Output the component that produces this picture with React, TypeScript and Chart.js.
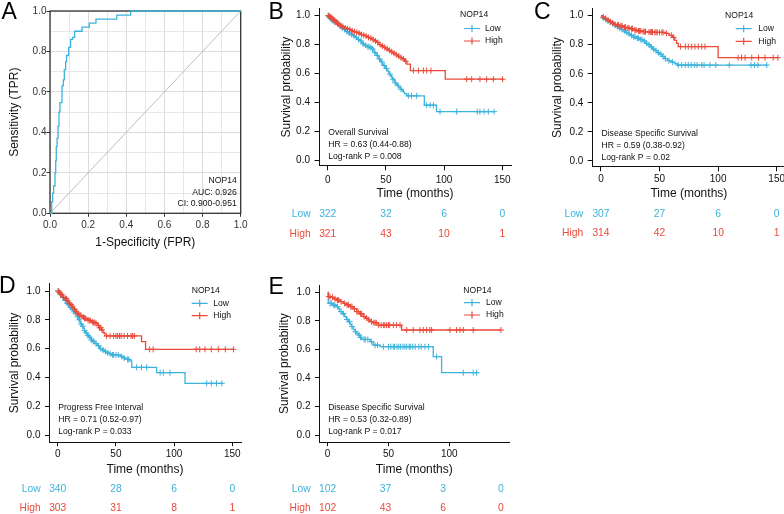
import React, { useEffect, useRef } from "react";
import { Chart, registerables } from "chart.js";

Chart.register(...registerables);

const FONT = "'Liberation Sans', Arial, Helvetica, sans-serif";
const CYAN = "#3DB2DB";
const RED = "#EA4A3A";
const INK = "#111111";
const GENE = "NOP14";
const GROUPS = ["Low", "High"];

// ---------------- Panel A : ROC ----------------
const rocFpr = [0, 0.009, 0.014, 0.019, 0.026, 0.03, 0.033, 0.037, 0.042, 0.047, 0.052, 0.063, 0.07, 0.075, 0.082, 0.087, 0.098, 0.108, 0.119, 0.129, 0.168, 0.206, 0.241, 0.35, 0.423, 1.0];
const rocTpr = [0, 0.058, 0.1, 0.135, 0.2, 0.26, 0.33, 0.37, 0.43, 0.5, 0.547, 0.63, 0.66, 0.71, 0.75, 0.78, 0.82, 0.86, 0.87, 0.9, 0.92, 0.94, 0.96, 0.98, 1.0, 1.0];
const rocDiagonal = [0, 1];
const rocTicks = [0, 0.1, 0.2, 0.3, 0.4, 0.5, 0.6, 0.7, 0.8, 0.9, 1.0];
const rocText = ["NOP14", "AUC: 0.926", "CI: 0.900-0.951"];

// ---------------- shared KM ticks ----------------
const timeTicks = [0, 50, 100, 150];
const timeTicksE = [0, 50, 100];
const survTicks = [0, 0.2, 0.4, 0.6, 0.8, 1.0];
const riskTimes = [0, 50, 100, 150];

// ---------------- Panel B : Overall Survival ----------------
const bLowTime = [0, 1, 2, 3, 4, 5, 6, 7, 8, 9, 10, 11, 12, 13, 14, 15, 16, 17, 18, 19, 20, 21, 22, 23, 24, 25, 26, 27, 28, 29, 30, 31, 32, 33, 34, 36, 38, 39, 40, 41, 42, 43, 44, 45, 46, 47, 48, 49, 50, 51, 52, 53, 54, 55, 56, 57, 58, 59, 60, 61, 62, 63, 64, 65, 66, 68, 83, 93.5];
const bLowSurv = [1, 0.99, 0.98, 0.975, 0.965, 0.96, 0.955, 0.95, 0.945, 0.935, 0.93, 0.92, 0.915, 0.91, 0.905, 0.895, 0.89, 0.885, 0.88, 0.875, 0.87, 0.865, 0.86, 0.855, 0.85, 0.84, 0.835, 0.83, 0.825, 0.815, 0.805, 0.8, 0.795, 0.79, 0.785, 0.78, 0.77, 0.76, 0.745, 0.735, 0.725, 0.715, 0.7, 0.69, 0.68, 0.665, 0.655, 0.645, 0.635, 0.62, 0.61, 0.595, 0.585, 0.57, 0.56, 0.55, 0.535, 0.525, 0.515, 0.505, 0.5, 0.49, 0.48, 0.47, 0.46, 0.445, 0.38, 0.335];
const bLowEnd = 143;
const bLowCensor = [0.5, 1.5, 2.5, 3.5, 4.5, 5.5, 6.5, 8.5, 10.5, 12.5, 14.5, 16.5, 18.5, 20.5, 22.5, 24.5, 26.5, 28.5, 30.5, 32.5, 34.5, 35.5, 37, 38.5, 40.5, 42.5, 44.5, 46.5, 48.5, 50.5, 53.5, 56, 58, 60.5, 63, 69.3, 72, 76.4, 85, 88, 90.8, 96.5, 110.8, 128.5, 130.8, 134.3, 138, 143];
const bHighTime = [0, 1, 2, 3, 4, 5, 6, 7, 8, 9, 10, 11, 12, 14, 16, 18, 20, 22, 24, 26, 28, 30, 32, 34, 36, 38, 40, 42, 44, 46, 48, 50, 52, 54, 56, 58, 60, 62, 64, 66, 68, 71, 101];
const bHighSurv = [1, 0.995, 0.99, 0.985, 0.975, 0.97, 0.96, 0.955, 0.95, 0.94, 0.935, 0.93, 0.925, 0.915, 0.91, 0.905, 0.895, 0.89, 0.885, 0.88, 0.87, 0.865, 0.86, 0.85, 0.845, 0.835, 0.825, 0.815, 0.8, 0.79, 0.78, 0.77, 0.76, 0.75, 0.74, 0.73, 0.72, 0.71, 0.7, 0.685, 0.665, 0.62, 0.56];
const bHighEnd = 151;
const bHighCensor = [0.5, 1.5, 2.5, 3.5, 4.5, 5.5, 6.5, 7.5, 8.5, 9.5, 11.5, 13, 15, 17, 19, 21, 23, 25, 27, 29, 31, 33, 35, 37, 39, 41, 43, 45, 47, 49, 51, 53, 55, 57, 59, 61, 63, 65, 67, 73.6, 77.9, 82.2, 85, 88.7, 119.4, 123.7, 130.8, 136.6, 142.3, 150.3];
const bRiskLow = [322, 32, 6, 0];
const bRiskHigh = [321, 43, 10, 1];
const bNotes = ["Overall Survival", "HR = 0.63 (0.44-0.88)", "Log-rank P = 0.008"];

// ---------------- Panel C : Disease Specific Survival ----------------
const cLowTime = [0, 1, 3, 5, 7, 9, 11, 13, 15, 17, 19, 21, 23, 25, 27, 30, 33, 36, 38, 40, 42, 44, 46, 48, 50, 52, 54, 57, 60, 63, 65];
const cLowSurv = [1, 0.985, 0.975, 0.965, 0.955, 0.945, 0.935, 0.925, 0.915, 0.905, 0.895, 0.885, 0.875, 0.865, 0.855, 0.845, 0.835, 0.825, 0.81, 0.8, 0.785, 0.77, 0.76, 0.745, 0.735, 0.72, 0.705, 0.69, 0.68, 0.67, 0.66];
const cLowEnd = 141.5;
const cLowCensor = [2, 4, 6, 8, 10, 12, 14, 16, 18, 20, 22, 24, 26, 28, 29, 31, 32, 34, 35, 37, 39, 41, 43, 45, 47, 49, 51, 53, 55, 58, 61, 66, 69, 72, 74.5, 77, 80, 82, 86, 88, 93, 98, 109.5, 128, 131, 134, 141.5];
const cHighTime = [0, 1.5, 3, 5, 7, 9, 11, 13, 16, 19, 22, 25, 28, 31, 35, 40, 45, 55, 58, 61, 63, 64.5, 66, 100];
const cHighSurv = [1, 0.99, 0.98, 0.97, 0.96, 0.95, 0.94, 0.935, 0.93, 0.92, 0.915, 0.91, 0.9, 0.895, 0.89, 0.887, 0.885, 0.878, 0.865, 0.85, 0.83, 0.81, 0.787, 0.711];
const cHighEnd = 151;
const cHighCensor = [2, 4, 6, 8, 10, 12, 14, 15, 17, 18, 20, 21, 23, 24, 26, 27, 29, 30, 32, 33, 34, 36, 37, 38, 41, 42, 43, 44, 46, 47, 48, 50, 52, 53, 56, 60, 62, 68, 72, 74.5, 77.4, 80.2, 83, 86, 88.8, 117, 120, 123, 128.7, 134.4, 140, 147, 151];
const cRiskLow = [307, 27, 6, 0];
const cRiskHigh = [314, 42, 10, 1];
const cNotes = ["Disease Specific Survival", "HR = 0.59 (0.38-0.92)", "Log-rank P = 0.02"];

// ---------------- Panel D : Progress Free Interval ----------------
const dLowTime = [0, 1, 2, 3, 4, 5, 6, 7, 8, 9, 10, 11, 12, 13, 14, 15, 16, 17, 18, 19, 20, 21, 22, 23, 24, 25, 26, 27, 28, 29, 30, 32, 34, 36, 38, 40, 42, 44, 46, 54, 56, 58, 62, 63.6, 85, 109.4];
const dLowSurv = [1, 0.985, 0.975, 0.965, 0.955, 0.945, 0.935, 0.925, 0.915, 0.905, 0.895, 0.885, 0.875, 0.865, 0.855, 0.845, 0.835, 0.82, 0.8, 0.785, 0.77, 0.755, 0.74, 0.725, 0.71, 0.7, 0.69, 0.68, 0.67, 0.66, 0.65, 0.635, 0.62, 0.6, 0.59, 0.58, 0.57, 0.565, 0.556, 0.545, 0.535, 0.525, 0.515, 0.47, 0.433, 0.359];
const dLowEnd = 142;
const dLowCensor = [0.5, 2.5, 4.5, 6.5, 8, 9.5, 11, 12.5, 14, 15.5, 17, 18.5, 20, 21.5, 23, 24.5, 26, 27.5, 29, 30.5, 31, 33, 35, 37, 39, 41, 43, 45, 47, 48, 50, 52, 55, 57, 60, 61, 67.8, 72, 76.4, 88, 90.8, 96.5, 128, 132, 136.5, 141];
const dHighTime = [0, 1, 2, 3, 4, 5, 6, 7, 8, 9, 10, 11, 12, 13, 14, 15, 16, 17, 18, 19, 21, 23, 25, 27, 29, 31, 33, 34.5, 36, 37.5, 39, 40.5, 72, 75.5];
const dHighSurv = [1, 0.99, 0.98, 0.975, 0.965, 0.955, 0.95, 0.945, 0.935, 0.925, 0.915, 0.905, 0.895, 0.885, 0.875, 0.865, 0.855, 0.845, 0.835, 0.83, 0.82, 0.81, 0.8, 0.795, 0.785, 0.78, 0.775, 0.76, 0.745, 0.73, 0.71, 0.688, 0.648, 0.595];
const dHighEnd = 151;
const dHighCensor = [0.5, 1.5, 2.5, 3.5, 5, 6.5, 7.5, 8.5, 10, 11.5, 12.5, 14.5, 16, 17.5, 19, 20, 22, 23, 24, 26, 27, 28, 30, 31, 32, 33, 35, 36, 37, 38, 42, 45, 48, 50, 51.5, 53, 54.5, 57, 60, 63, 64.4, 65.8, 79, 82, 119, 122, 126.5, 132, 138, 144, 151];
const dRiskLow = [340, 28, 6, 0];
const dRiskHigh = [303, 31, 8, 1];
const dNotes = ["Progress Free Interval", "HR = 0.71 (0.52-0.97)", "Log-rank P = 0.033"];

// ---------------- Panel E : Disease Specific Survival ----------------
const eLowTime = [0, 0.5, 4, 7.4, 9, 10, 12, 14, 15.5, 17, 18.5, 19.7, 21, 22.5, 24, 25.2, 26.5, 28, 34.8, 37.5, 43, 86.8, 93.7];
const eLowSurv = [1, 0.923, 0.91, 0.9, 0.885, 0.865, 0.85, 0.83, 0.81, 0.794, 0.775, 0.76, 0.74, 0.724, 0.71, 0.7, 0.685, 0.67, 0.654, 0.63, 0.619, 0.55, 0.437];
const eLowEnd = 123.8;
const eLowCensor = [2, 3, 5, 6, 8, 11, 13, 16, 18, 20, 23, 26, 27, 30, 31, 33, 36, 39, 41, 45.8, 50, 52, 54, 55, 57, 58.5, 60, 62, 63.5, 65, 67, 68, 70, 72, 75, 77, 80, 83, 89.6, 111.5, 119.7, 122.5];
const eHighTime = [0, 0.5, 3, 5, 7.4, 10, 12.9, 15, 18.4, 21, 23.8, 26, 29.3, 31, 33.4, 35.5, 37.5, 41.6, 60.8];
const eHighSurv = [1, 0.97, 0.965, 0.955, 0.946, 0.935, 0.923, 0.912, 0.9, 0.885, 0.865, 0.85, 0.83, 0.82, 0.806, 0.795, 0.787, 0.77, 0.736];
const eHighEnd = 142.5;
const eHighCensor = [1, 2, 4, 6, 8, 9, 11, 14, 16, 17, 19, 20, 22, 24, 25, 27, 28, 30, 32, 34, 36, 38, 39, 40, 42, 44, 45.8, 47, 48.5, 50, 51, 54, 56.7, 59.5, 65, 70.4, 75.9, 78.6, 81.4, 84, 85.5, 100.5, 106, 108.8, 111.5, 119.7, 142.5];
const eRiskLow = [102, 37, 3, 0];
const eRiskHigh = [102, 43, 6, 0];
const eNotes = ["Disease Specific Survival", "HR = 0.53 (0.32-0.89)", "Log-rank P = 0.017"];

// ---------------- layout (page pixels) ----------------
const NOTE_Y = [0.19, 0.105, 0.022];

function stepPoints(times: number[], surv: number[], end: number) {
  const pts = times.map((t, i) => ({ x: t, y: surv[i] }));
  pts.push({ x: end, y: surv[surv.length - 1] });
  return pts;
}
function censorPoints(times: number[], surv: number[], cens: number[]) {
  return cens.map((c) => {
    let s = surv[0];
    for (let i = 0; i < times.length; i++) if (times[i] <= c) s = surv[i];
    return { x: c, y: s };
  });
}

function kmPlugin(k: any) {
  return {
    id: "kmExtras",
    afterDraw(chart: any) {
      const ctx = chart.ctx;
      const g = k.geo;
      const xs = chart.scales.x;
      const ys = chart.scales.y;
      const rs = chart.scales[k.riskAxis];
      ctx.save();
      ctx.font = `8.6px ${FONT}`;
      ctx.fillStyle = INK;
      ctx.textAlign = "left";
      ctx.textBaseline = "middle";
      k.notes.forEach((t: string, i: number) => ctx.fillText(t, xs.getPixelForValue(0) + 0.5, ys.getPixelForValue(NOTE_Y[i])));
      const lg = k.legend;
      ctx.fillText(GENE, lg.titleX - g.cx, lg.titleY - g.cy);
      [CYAN, RED].forEach((c, i) => {
        const y = lg.rows[i] - g.cy;
        const x0 = lg.keyX - g.cx;
        ctx.strokeStyle = c;
        ctx.lineWidth = 1.2;
        ctx.beginPath();
        ctx.moveTo(x0, y);
        ctx.lineTo(x0 + 16, y);
        ctx.moveTo(x0 + 8, y - 3.5);
        ctx.lineTo(x0 + 8, y + 3.5);
        ctx.stroke();
        ctx.fillStyle = INK;
        ctx.fillText(GROUPS[i], lg.textX - g.cx, y);
      });
      ctx.font = `10.3px ${FONT}`;
      [k.riskLow, k.riskHigh].forEach((row: number[], i: number) => {
        const y = k.riskRows[i] - g.cy;
        ctx.fillStyle = i ? RED : CYAN;
        ctx.textAlign = "right";
        ctx.fillText(GROUPS[i], k.labelRight - g.cx, y);
        ctx.textAlign = "center";
        row.forEach((n, j) => ctx.fillText(String(n), rs.getPixelForValue(riskTimes[j]), y));
      });
      ctx.restore();
    },
  };
}

function kmConfig(k: any) {
  const g = k.geo;
  const scales: any = {
    x: {
      type: "linear",
      min: k.xmin,
      max: k.xmax,
      afterBuildTicks: (s: any) => {
        s.ticks = k.xTicks.map((v: number) => ({ value: v }));
      },
      afterFit: (s: any) => {
        s.height = g.xTitleY + 6 - g.B;
      },
      ticks: {
        autoSkip: false,
        maxRotation: 0,
        font: { size: 10, family: FONT },
        color: INK,
        padding: g.xLabelY - g.B - g.tl - 6,
        callback: (v: any) => String(v),
      },
      grid: { drawOnChartArea: false, drawTicks: true, tickLength: g.tl, tickColor: INK, tickWidth: 1 },
      border: { display: true, color: INK, width: 1 },
      title: { display: true, text: "Time (months)", color: INK, font: { size: 12, family: FONT, lineHeight: 1 }, padding: { top: 0, bottom: 0 } },
    },
    y: {
      type: "linear",
      min: k.ymin,
      max: 1.05,
      afterBuildTicks: (s: any) => {
        s.ticks = survTicks.map((v) => ({ value: v }));
      },
      afterFit: (s: any) => {
        s.width = g.L - g.cx;
      },
      ticks: {
        autoSkip: false,
        font: { size: 10, family: FONT },
        color: INK,
        padding: g.L - g.tl - g.yLabelRight,
        callback: (v: any) => Number(v).toFixed(1),
      },
      grid: { drawOnChartArea: false, drawTicks: true, tickLength: g.tl, tickColor: INK, tickWidth: 1 },
      border: { display: true, color: INK, width: 1 },
      title: { display: true, text: "Survival probability", color: INK, font: { size: 12, family: FONT, lineHeight: 1 }, padding: { top: g.yTitleX - g.cx - 6, bottom: 0 } },
    },
  };
  if (k.riskAxis !== "x") {
    scales[k.riskAxis] = { type: "linear", display: false, min: -7.5, max: 157.5 };
  }
  return {
    type: "line",
    data: {
      datasets: [
        { data: stepPoints(k.hT, k.hS, k.hEnd), borderColor: RED, borderWidth: 1.3, stepped: "before", pointRadius: 0, fill: false },
        { data: censorPoints(k.hT, k.hS, k.hC), showLine: false, pointStyle: "cross", pointRadius: 3, pointHoverRadius: 3, pointBorderColor: RED, pointBorderWidth: 1, pointBackgroundColor: RED },
        { data: stepPoints(k.lT, k.lS, k.lEnd), borderColor: CYAN, borderWidth: 1.3, stepped: "before", pointRadius: 0, fill: false },
        { data: censorPoints(k.lT, k.lS, k.lC), showLine: false, pointStyle: "cross", pointRadius: 3, pointHoverRadius: 3, pointBorderColor: CYAN, pointBorderWidth: 1, pointBackgroundColor: CYAN },
      ],
    },
    options: {
      responsive: false,
      animation: false,
      events: [],
      layout: { padding: { left: 0, top: g.T - g.cy, right: g.cx + g.cw - g.R, bottom: g.cy + g.ch - (g.xTitleY + 6) } },
      plugins: { legend: { display: false }, tooltip: { enabled: false } },
      scales,
    },
    plugins: [kmPlugin(k)],
  };
}

const rocGeo = { cx: 0, cy: -6, cw: 258, ch: 262, L: 50, R: 240.7, T: 11, B: 213.3, yTitleX: 15, xTitleY: 242.3, xLabelY: 225, yLabelRight: 46.5, tl: 3.5 };

function rocConfig() {
  const g = rocGeo;
  const gridOpts = {
    display: true,
    color: "#DCDCDC",
    lineWidth: (c: any) => (c.index % 2 ? 0.7 : 1),
    tickColor: (c: any) => (c.index % 2 ? "rgba(0,0,0,0)" : "#333333"),
    tickLength: g.tl,
    drawOnChartArea: true,
    drawTicks: true,
  };
  return {
    type: "line",
    data: {
      datasets: [
        { data: rocFpr.map((x, i) => ({ x, y: rocTpr[i] })), borderColor: CYAN, borderWidth: 1.3, stepped: "before", pointRadius: 0, fill: false, clip: 4 },
        { data: rocDiagonal.map((v) => ({ x: v, y: v })), borderColor: "#BEBEBE", borderWidth: 1, pointRadius: 0, fill: false },
      ],
    },
    options: {
      responsive: false,
      animation: false,
      events: [],
      layout: { padding: { left: 0, top: g.T - g.cy, right: g.cx + g.cw - g.R, bottom: g.cy + g.ch - (g.xTitleY + 6) } },
      plugins: { legend: { display: false }, tooltip: { enabled: false } },
      scales: {
        x: {
          type: "linear",
          min: 0,
          max: 1,
          afterBuildTicks: (s: any) => {
            s.ticks = rocTicks.map((v) => ({ value: v }));
          },
          afterFit: (s: any) => {
            s.height = g.xTitleY + 6 - g.B;
          },
          ticks: { autoSkip: false, maxRotation: 0, font: { size: 10, family: FONT }, color: "#333333", padding: g.xLabelY - g.B - g.tl - 6, callback: (v: any, i: number) => (i % 2 ? "" : Number(v).toFixed(1)) },
          grid: gridOpts,
          border: { display: false },
          title: { display: true, text: "1-Specificity (FPR)", color: INK, font: { size: 12, family: FONT, lineHeight: 1 }, padding: { top: 0, bottom: 0 } },
        },
        y: {
          type: "linear",
          min: 0,
          max: 1,
          afterBuildTicks: (s: any) => {
            s.ticks = rocTicks.map((v) => ({ value: v }));
          },
          afterFit: (s: any) => {
            s.width = g.L - g.cx;
          },
          ticks: { autoSkip: false, font: { size: 10, family: FONT }, color: "#333333", padding: g.L - g.tl - g.yLabelRight, callback: (v: any, i: number) => (i % 2 ? "" : Number(v).toFixed(1)) },
          grid: gridOpts,
          border: { display: false },
          title: { display: true, text: "Sensitivity (TPR)", color: INK, font: { size: 12, family: FONT, lineHeight: 1 }, padding: { top: g.yTitleX - g.cx - 6, bottom: 0 } },
        },
      },
    },
    plugins: [
      {
        id: "rocExtras",
        beforeDatasetsDraw(chart: any) {
          const { ctx, chartArea: a } = chart;
          ctx.save();
          ctx.strokeStyle = "#333333";
          ctx.lineWidth = 1.3;
          ctx.strokeRect(a.left, a.top, a.right - a.left, a.bottom - a.top);
          ctx.restore();
        },
        afterDraw(chart: any) {
          const ctx = chart.ctx;
          const xs = chart.scales.x;
          const ys = chart.scales.y;
          ctx.save();
          ctx.font = `8.6px ${FONT}`;
          ctx.fillStyle = INK;
          ctx.textAlign = "right";
          ctx.textBaseline = "middle";
          const yv = [0.16, 0.102, 0.046];
          rocText.forEach((t, i) => ctx.fillText(t, xs.getPixelForValue(0.979), ys.getPixelForValue(yv[i])));
          ctx.restore();
        },
      },
    ],
  };
}

const panels: any[] = [
  {
    key: "B",
    geo: { cx: 262, cy: -6, cw: 262, ch: 252, L: 319, R: 511, T: 8.5, B: 165.8, yTitleX: 286.7, xTitleY: 193.5, xLabelY: 179.8, yLabelRight: 310, tl: 4.5 },
    xmin: -7.5, xmax: 157.5, ymin: -0.04, xTicks: timeTicks, riskAxis: "x",
    lT: bLowTime, lS: bLowSurv, lEnd: bLowEnd, lC: bLowCensor,
    hT: bHighTime, hS: bHighSurv, hEnd: bHighEnd, hC: bHighCensor,
    riskLow: bRiskLow, riskHigh: bRiskHigh, riskRows: [214.2, 233.7], labelRight: 310.7,
    notes: bNotes,
    legend: { titleX: 460, titleY: 15, keyX: 464, textX: 485, rows: [28.5, 41] },
  },
  {
    key: "C",
    geo: { cx: 527, cy: -6, cw: 270, ch: 252, L: 592.2, R: 785.5, T: 8.4, B: 166.8, yTitleX: 557.8, xTitleY: 193.5, xLabelY: 179.3, yLabelRight: 583.3, tl: 4.5 },
    xmin: -7.5, xmax: 157.5, ymin: -0.04, xTicks: timeTicks, riskAxis: "x",
    lT: cLowTime, lS: cLowSurv, lEnd: cLowEnd, lC: cLowCensor,
    hT: cHighTime, hS: cHighSurv, hEnd: cHighEnd, hC: cHighCensor,
    riskLow: cRiskLow, riskHigh: cRiskHigh, riskRows: [214.3, 233.3], labelRight: 583.3,
    notes: cNotes,
    legend: { titleX: 725, titleY: 15.3, keyX: 735.7, textX: 758.3, rows: [28.7, 41.3] },
  },
  {
    key: "D",
    geo: { cx: 0, cy: 256, cw: 260, ch: 258, L: 49, R: 241, T: 283.8, B: 442.2, yTitleX: 14.7, xTitleY: 470, xLabelY: 454, yLabelRight: 40.5, tl: 4 },
    xmin: -7.5, xmax: 157.5, ymin: -0.05, xTicks: timeTicks, riskAxis: "x",
    lT: dLowTime, lS: dLowSurv, lEnd: dLowEnd, lC: dLowCensor,
    hT: dHighTime, hS: dHighSurv, hEnd: dHighEnd, hC: dHighCensor,
    riskLow: dRiskLow, riskHigh: dRiskHigh, riskRows: [489.3, 508.5], labelRight: 40.7,
    notes: dNotes,
    legend: { titleX: 191.7, titleY: 291, keyX: 191.7, textX: 213.3, rows: [303.3, 315.7] },
  },
  {
    key: "E",
    geo: { cx: 262, cy: 256, cw: 262, ch: 258, L: 319, R: 509.6, T: 285.2, B: 442.2, yTitleX: 285, xTitleY: 470, xLabelY: 454, yLabelRight: 310.5, tl: 4 },
    xmin: -7.1, xmax: 149.6, ymin: -0.05, xTicks: timeTicksE, riskAxis: "xr",
    lT: eLowTime, lS: eLowSurv, lEnd: eLowEnd, lC: eLowCensor,
    hT: eHighTime, hS: eHighSurv, hEnd: eHighEnd, hC: eHighCensor,
    riskLow: eRiskLow, riskHigh: eRiskHigh, riskRows: [489.3, 508.5], labelRight: 310.7,
    notes: eNotes,
    legend: { titleX: 463.3, titleY: 290.7, keyX: 464, textX: 486, rows: [302.7, 315] },
  },
];

function ChartCanvas({ geo, makeConfig }: { geo: any; makeConfig: () => any }) {
  const ref = useRef<HTMLCanvasElement>(null);
  useEffect(() => {
    const chart = new Chart(ref.current as HTMLCanvasElement, makeConfig());
    return () => chart.destroy();
  }, []);
  return (
    <canvas
      ref={ref}
      width={geo.cw}
      height={geo.ch}
      style={{ position: "absolute", left: geo.cx, top: geo.cy, width: geo.cw, height: geo.ch }}
    />
  );
}

const letters = [
  { t: "A", x: 1.5, y: 0.3 },
  { t: "B", x: 268.5, y: 0.3 },
  { t: "C", x: 534, y: 0.3 },
  { t: "D", x: -1, y: 273.7 },
  { t: "E", x: 268.5, y: 275 },
];

export default function App() {
  return (
    <div style={{ position: "fixed", left: 0, top: 0, width: 784, height: 514, overflow: "hidden", background: "#ffffff" }}>
      <ChartCanvas geo={rocGeo} makeConfig={rocConfig} />
      {panels.map((p) => (
        <ChartCanvas key={p.key} geo={p.geo} makeConfig={() => kmConfig(p)} />
      ))}
      {letters.map((l) => (
        <div
          key={l.t}
          style={{ position: "absolute", left: l.x, top: l.y, fontFamily: FONT, fontSize: 23, lineHeight: "23px", color: "#000", whiteSpace: "nowrap" }}
        >
          {l.t}
        </div>
      ))}
    </div>
  );
}
